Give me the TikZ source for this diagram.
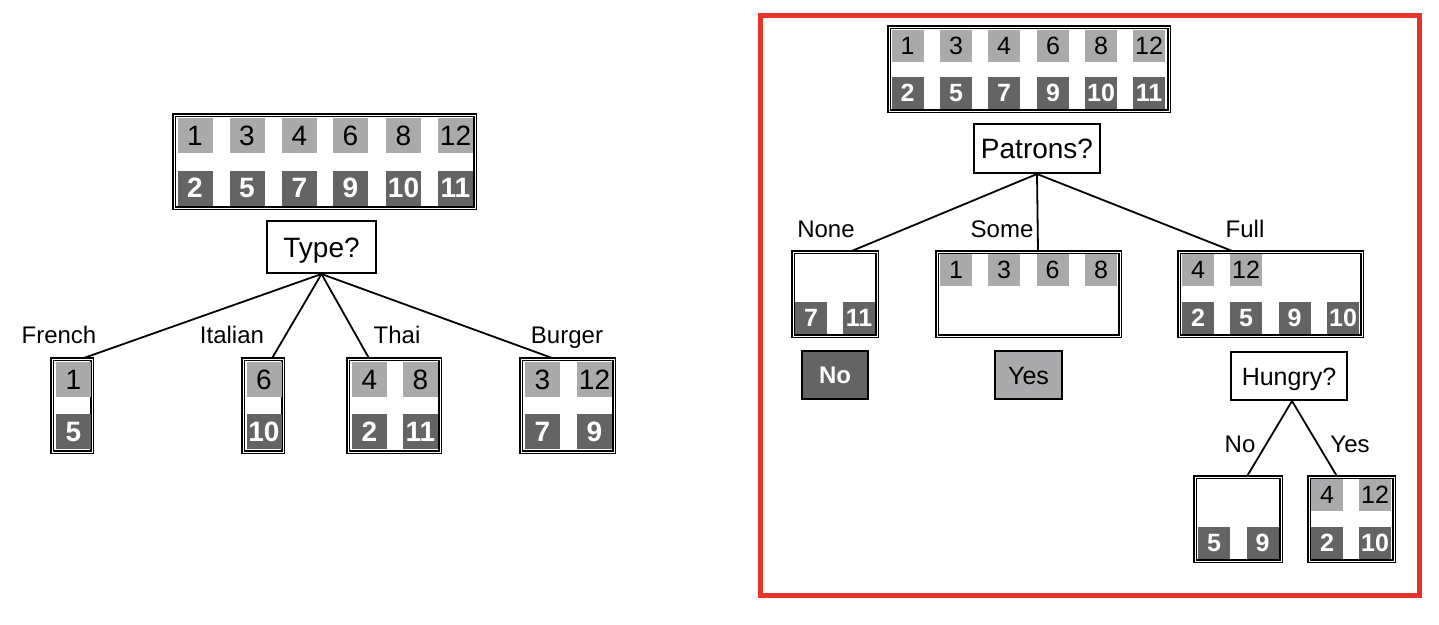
\documentclass[tikz,border=0pt]{standalone}
\usepackage{fontspec}
\setmainfont{Liberation Sans}
\definecolor{lightg}{RGB}{170,170,172}
\definecolor{darkg}{RGB}{100,100,100}
\definecolor{framered}{RGB}{232,52,40}
\newcommand\fsz[1]{\fontsize{#1}{#1}\selectfont}
\begin{document}
\begin{tikzpicture}[x=1pt,y=-1pt,
  ltL/.style={minimum width=35pt,minimum height=35pt,inner sep=0pt,fill=lightg,text=black,font=\fsz{28}},
  dkL/.style={minimum width=35pt,minimum height=35pt,inner sep=0pt,fill=darkg,text=white,font=\fsz{28}\bfseries},
  ltR/.style={minimum width=32pt,minimum height=32pt,inner sep=0pt,fill=lightg,text=black,font=\fsz{25}},
  dkR/.style={minimum width=32pt,minimum height=32pt,inner sep=0pt,fill=darkg,text=white,font=\fsz{25}\bfseries},
  samp/.style={draw,line width=1.4pt,double=white,double distance=0.7pt,inner sep=0pt,fill=white},
  qbox/.style={draw,line width=2pt,fill=white,inner sep=0pt,text depth=0pt},
  lbl/.style={inner sep=0pt,font=\fsz{24},anchor=base},
  conn/.style={line width=1.8pt}]
\useasboundingbox (0,0) rectangle (1439,624);
% ---------------- left tree ----------------
\node[samp,minimum width=301pt,minimum height=93pt] (L0) at (324.5,161.5) {};
\foreach \t/\x [count=\i] in {1/195,3/247,4/299.5,6/350.5,8/403.5,12/455.5}
  \node[ltL] (Lp\i) at (\x,135.5) {\t};
\foreach \t/\x [count=\i] in {2/195,5/247,7/299.5,9/350.5,10/403.5,11/455.5}
  \node[dkL] (Ln\i) at (\x,188) {\t};
\node[qbox,font=\fsz{28},text height=20pt,minimum width=109pt,minimum height=52pt] (type) at (321.5,247) {Type?};
\node[samp,minimum width=40pt,minimum height=93pt] (fr) at (72,405.5) {};
\node[samp,minimum width=40pt,minimum height=93pt] (it) at (263,405.5) {};
\node[samp,minimum width=92pt,minimum height=93pt] (th) at (394,405.5) {};
\node[samp,minimum width=93pt,minimum height=93pt] (bu) at (567.5,405.5) {};
\node[ltL] (fr1) at (73.5,379.5) {1};
\node[dkL] (fr2) at (73.5,431.5) {5};
\node[ltL] (it1) at (264,379.5) {6};
\node[dkL] (it2) at (264,431.5) {10};
\node[ltL] (th1) at (369.5,379.5) {4};
\node[ltL] (th2) at (420.5,379.5) {8};
\node[dkL] (th3) at (369.5,431.5) {2};
\node[dkL] (th4) at (420.5,431.5) {11};
\node[ltL] (bu1) at (542.5,379.5) {3};
\node[ltL] (bu2) at (594.5,379.5) {12};
\node[dkL] (bu3) at (542.5,431.5) {7};
\node[dkL] (bu4) at (594.5,431.5) {9};
\draw[conn] (type.south) -- ([xshift=11pt]fr.north);
\draw[conn] (type.south) -- ([xshift=9pt]it.north);
\draw[conn] (type.south) -- ([xshift=-25pt]th.north);
\draw[conn] (type.south) -- ([xshift=-14.5pt]bu.north);
\node[lbl] (lfr) at (59,343.5) {French};
\node[lbl] (lit) at (232,343.5) {Italian};
\node[lbl] (lth) at (397,343.5) {Thai};
\node[lbl] (lbu) at (567,343.5) {Burger};
% ---------------- right tree ----------------
\draw[framered,line width=5pt] (760.5,15.5) rectangle (1419.5,595);
\node[samp,minimum width=280pt,minimum height=84pt] (R0) at (1029,69) {};
\foreach \t/\x [count=\i] in {1/907.5,3/956,4/1004,6/1053,8/1101,12/1149}
  \node[ltR] (Rp\i) at (\x,45.5) {\t};
\foreach \t/\x [count=\i] in {2/907.5,5/956,7/1004,9/1053,10/1101,11/1149}
  \node[dkR] (Rn\i) at (\x,93) {\t};
\node[qbox,font=\fsz{28},text height=20pt,minimum width=126pt,minimum height=49pt] (pat) at (1037,148.5) {Patrons?};
\node[samp,minimum width=84pt,minimum height=84pt] (none) at (835,294) {};
\node[samp,minimum width=183pt,minimum height=84pt] (some) at (1028.5,294) {};
\node[samp,minimum width=183pt,minimum height=84pt] (full) at (1270.5,294) {};
\node[dkR] (no1) at (811,318) {7};
\node[dkR] (no2) at (859,318) {11};
\foreach \t/\x [count=\i] in {1/956,3/1004,6/1052.5,8/1101}
  \node[ltR] (so\i) at (\x,270) {\t};
\node[ltR] (fu1) at (1198,270) {4};
\node[ltR] (fu2) at (1246,270) {12};
\foreach \t/\x [count=\i] in {2/1198,5/1246,9/1294.5,10/1343}
  \node[dkR] (fd\i) at (\x,318) {\t};
\draw[conn] (pat.south) -- ([xshift=16pt]none.north);
\draw[conn] (pat.south) -- ([xshift=9.5pt]some.north);
\draw[conn] (pat.south) -- ([xshift=-37.5pt]full.north);
\node[lbl] (lnone) at (826,237.5) {None};
\node[lbl] (lsome) at (1002,237.5) {Some};
\node[lbl] (lfull) at (1245,237.5) {Full};
\node[qbox,fill=darkg,text=white,font=\fsz{24}\bfseries,text height=17.5pt,minimum width=66pt,minimum height=48pt] (ansno) at (835,375) {No};
\node[qbox,fill=lightg,font=\fsz{25},text height=18pt,minimum width=67pt,minimum height=48pt] (ansyes) at (1028.5,375) {Yes};
\node[qbox,font=\fsz{25},text height=18pt,minimum width=116pt,minimum height=48pt] (hun) at (1289,376) {Hungry?};
\node[samp,minimum width=86pt,minimum height=84pt] (hno) at (1238,519) {};
\node[samp,minimum width=85pt,minimum height=84pt] (hyes) at (1351.5,519) {};
\node[dkR] (hn1) at (1214,543) {5};
\node[dkR] (hn2) at (1262.5,543) {9};
\node[ltR] (hy1) at (1327,494.5) {4};
\node[ltR] (hy2) at (1375,494.5) {12};
\node[dkR] (hy3) at (1327,543) {2};
\node[dkR] (hy4) at (1375,543) {10};
\coordinate (hapex) at ([xshift=3pt]hun.south);
\draw[conn] (hapex) -- ([xshift=9pt]hno.north);
\draw[conn] (hapex) -- ([xshift=-14.5pt]hyes.north);
\node[lbl] (lhno) at (1240,452.5) {No};
\node[lbl] (lhyes) at (1350,452.5) {Yes};
\end{tikzpicture}
\end{document}
